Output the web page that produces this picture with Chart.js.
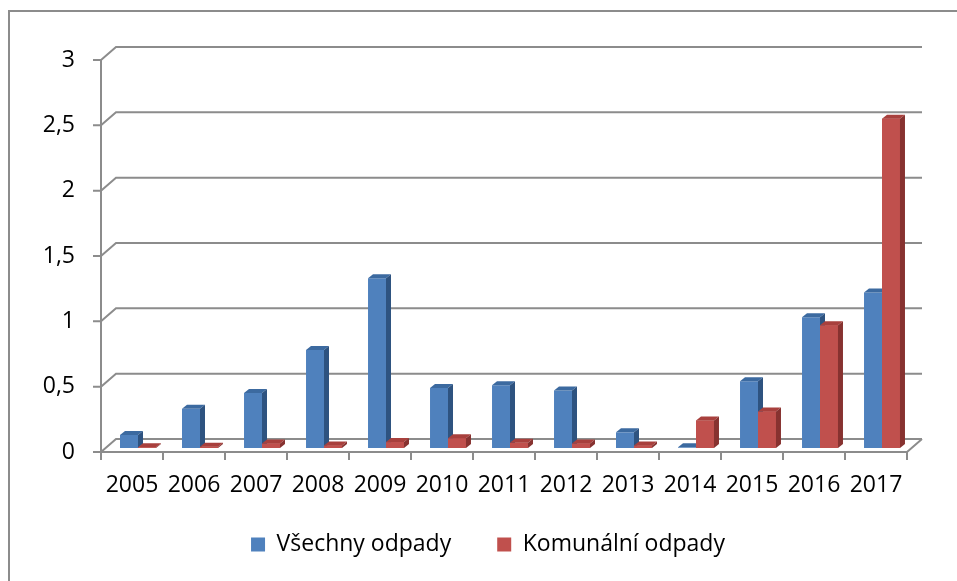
<!DOCTYPE html>
<html>
<head>
<meta charset="utf-8">
<script src="https://cdn.jsdelivr.net/npm/chart.js@4.4.0/dist/chart.umd.min.js"></script>
<style>
  html, body { margin: 0; padding: 0; background: #fff; }
  #wrap { width: 957px; height: 581px; position: relative; }
</style>
</head>
<body>
<div id="wrap"><canvas id="myChart" width="957" height="581"></canvas></div>
<script>
const years = ['2005', '2006', '2007', '2008', '2009', '2010', '2011', '2012', '2013', '2014', '2015', '2016', '2017'];
const allWaste = [0.10, 0.30, 0.42, 0.75, 1.30, 0.46, 0.48, 0.44, 0.12, 0.005, 0.51, 1.00, 1.19];
const municipalWaste = [0.005, 0.01, 0.035, 0.02, 0.045, 0.075, 0.04, 0.035, 0.02, 0.21, 0.28, 0.94, 2.52];
const seriesNames = ['Všechny odpady', 'Komunální odpady'];
const yTicks = [0, 0.5, 1, 1.5, 2, 2.5, 3];

const FONT = 'Open Sans';
const FONT_SIZE = 23;
const gridColor = '#8c8c8c';
// front / top / side colours for the fake 3d bars
const faces = [
  { front: '#4f81bd', top: '#3c6aa0', side: '#2e5380' },
  { front: '#c0504d', top: '#a8403d', side: '#873230' }
];
const wallDX = 15, wallDY = 13;   // depth of the walls / floor
const barDX = 5, barDY = 4;       // depth of one bar
const rowDX = 6, rowDY = -4;      // bars stand half way into the floor

function poly(ctx, pts, color) {
  ctx.beginPath();
  ctx.moveTo(pts[0][0], pts[0][1]);
  for (let i = 1; i < pts.length; i++) ctx.lineTo(pts[i][0], pts[i][1]);
  ctx.closePath();
  ctx.fillStyle = color;
  ctx.fill();
}

const framePlugin = {
  id: 'frame',
  beforeDraw(chart) {
    const ctx = chart.ctx;
    ctx.save();
    ctx.strokeStyle = '#8c8c8c';
    ctx.lineWidth = 2;
    ctx.beginPath();
    ctx.moveTo(9, chart.height);
    ctx.lineTo(9, 11);
    ctx.lineTo(chart.width, 11);
    ctx.stroke();
    ctx.restore();
  }
};

const wallPlugin = {
  id: 'wall',
  beforeLayout(chart) {
    const lg = chart.legend;
    if (lg && !lg._fixed) {
      const fit = lg.fit;
      lg.fit = function () { fit.call(this); this.height = 82; };
      lg._fixed = true;
    }
  },
  afterLayout(chart) {
    // pull the legend up a bit, its padding is also the gap between items
    const lg = chart.legend;
    if (lg) { lg.top -= 12; lg.bottom -= 12; }
  },
  beforeDatasetsDraw(chart) {
    const ctx = chart.ctx;
    const a = chart.chartArea;
    const x = chart.scales.x, y = chart.scales.y;
    ctx.save();
    ctx.strokeStyle = gridColor;
    ctx.lineWidth = 2;
    ctx.beginPath();
    yTicks.forEach(function (v) {
      const py = y.getPixelForValue(v);
      ctx.moveTo(a.left - 8, py);
      ctx.lineTo(a.left, py);
      ctx.lineTo(a.left + wallDX, py - wallDY);
      ctx.lineTo(a.right + wallDX, py - wallDY);
    });
    // front axis + floor
    ctx.moveTo(a.left, a.top);
    ctx.lineTo(a.left, a.bottom);
    ctx.lineTo(a.right, a.bottom);
    ctx.lineTo(a.right + wallDX, a.bottom - wallDY);
    for (let i = 0; i <= years.length; i++) {
      const px = x.getPixelForValue(i - 0.5);
      ctx.moveTo(px, a.bottom);
      ctx.lineTo(px, a.bottom + 8);
    }
    ctx.stroke();
    ctx.restore();
    // shift the bar row back into the floor; restored after the bars
    ctx.save();
    ctx.translate(rowDX, rowDY);
  },
  afterDatasetsDraw(chart) {
    const ctx = chart.ctx;
    chart.data.datasets.forEach(function (ds, di) {
      const meta = chart.getDatasetMeta(di);
      const f = faces[di];
      meta.data.forEach(function (bar) {
        const p = bar.getProps(['x', 'y', 'base', 'width'], true);
        if (di > 0) bar.draw(ctx);
        const l = p.x - p.width / 2, r = p.x + p.width / 2;
        poly(ctx, [[l, p.y], [l + barDX, p.y - barDY], [r + barDX, p.y - barDY], [r, p.y]], f.top);
        poly(ctx, [[r, p.y], [r + barDX, p.y - barDY], [r + barDX, p.base - barDY], [r, p.base]], f.side);
      });
    });
    ctx.restore();
  }
};

const data = {
  labels: years,
  datasets: [{
    label: seriesNames[0],
    data: allWaste,
    backgroundColor: faces[0].front,
    borderWidth: 0
  },
  {
    label: seriesNames[1],
    data: municipalWaste,
    backgroundColor: faces[1].front,
    borderWidth: 0
  }]
};

const config = {
  type: 'bar',
  data: data,
  plugins: [framePlugin, wallPlugin],
  options: {
    responsive: false,
    animation: false,
    layout: { padding: { left: 19, right: 0, top: 60, bottom: 0 } },
    datasets: { bar: { categoryPercentage: 0.58, barPercentage: 1 } },
    plugins: {
      tooltip: { enabled: false },
      legend: {
        position: 'bottom',
        labels: {
          font: { family: FONT, size: FONT_SIZE },
          color: '#000',
          boxWidth: 14,
          boxHeight: 14,
          padding: 46
        }
      }
    },
    scales: {
      x: {
        grid: { display: false, drawTicks: false },
        border: { display: false },
        ticks: { font: { family: FONT, size: FONT_SIZE }, color: '#000', padding: 20, maxRotation: 0, autoSkip: false },
        afterFit: function (s) { s.height = 47; }
      },
      y: {
        min: 0,
        max: 3,
        grid: { display: false, drawTicks: false },
        border: { display: false },
        ticks: {
          stepSize: 0.5,
          font: { family: FONT, size: FONT_SIZE },
          color: '#000',
          padding: 26,
          callback: function (v) { return String(v).replace('.', ','); }
        },
        afterFit: function (s) { s.width = 82; }
      },
      yR: {
        position: 'right',
        grid: { display: false, drawTicks: false },
        border: { display: false },
        ticks: { display: false },
        afterFit: function (s) { s.width = 50; }
      }
    }
  }
};

var myChart = new Chart(document.getElementById('myChart'), config);
</script>
</body>
</html>
